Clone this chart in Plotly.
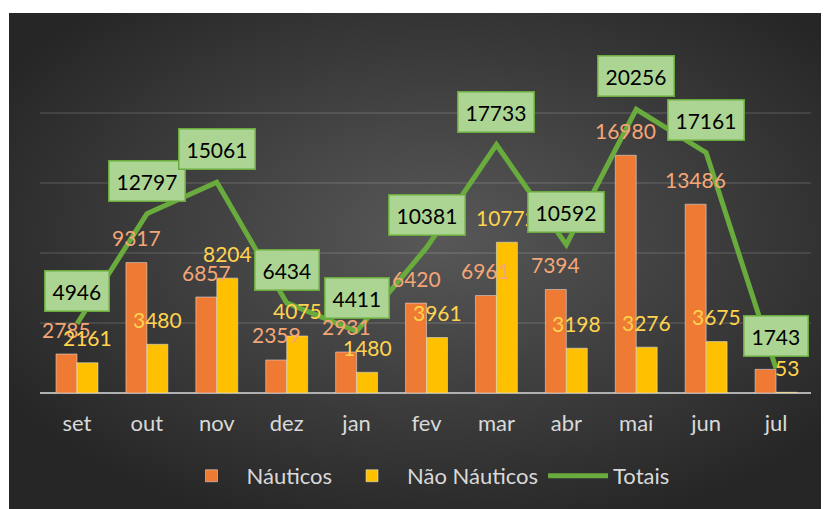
import base64

import plotly.graph_objects as go

months = ["set", "out", "nov", "dez", "jan", "fev", "mar", "abr", "mai", "jun", "jul"]
nauticos = [2785, 9317, 6857, 2359, 2931, 6420, 6961, 7394, 16980, 13486, 1690]
nao_nauticos = [2161, 3480, 8204, 4075, 1480, 3961, 10772, 3198, 3276, 3675, 53]
totais = [4946, 12797, 15061, 6434, 4411, 10381, 17733, 10592, 20256, 17161, 1743]

# label for jul Náuticos is hidden under the totals box in the original
show_nauticos_label = [True] * 10 + [False]

FONT = "Lato, 'Open Sans', sans-serif"
ORANGE = "#ee7a33"
YELLOW = "#ffc000"
GREEN = "#6aab3d"

# page body adds an 8px margin, so the figure is a bit smaller than the window
W, H = 821, 501
L, R, T, B = 32, 18, 35, 116
pw, ph = W - L - R, H - T - B

bg_svg = (
    '<svg xmlns="http://www.w3.org/2000/svg" width="820" height="496" '
    'viewBox="0 0 820 496" preserveAspectRatio="none">'
    '<defs><radialGradient id="g" cx="0.52" cy="0.45" r="0.62">'
    '<stop offset="0" stop-color="#585858"/>'
    '<stop offset="1" stop-color="#262626"/>'
    "</radialGradient></defs>"
    '<rect width="820" height="496" fill="url(#g)"/></svg>'
)
bg_src = "data:image/svg+xml;base64," + base64.b64encode(bg_svg.encode()).decode()

fig = go.Figure()
fig.add_trace(go.Bar(x=months, y=nauticos, name="Náuticos", marker_color=ORANGE))
fig.add_trace(go.Bar(x=months, y=nao_nauticos, name="Não Náuticos", marker_color=YELLOW))
fig.add_trace(go.Scatter(x=months, y=totais, name="Totais", mode="lines",
                         line=dict(color=GREEN, width=5)))

annotations = []
for m, v, show in zip(months, nauticos, show_nauticos_label):
    if show:
        annotations.append(dict(x=m, y=v, text=str(v), showarrow=False, xshift=-10.5,
                                yshift=25, font=dict(family=FONT, size=21, color="#f4a677")))
for m, v in zip(months, nao_nauticos):
    annotations.append(dict(x=m, y=v, text=str(v), showarrow=False, xshift=10.5,
                            yshift=25, font=dict(family=FONT, size=21, color="#ffd34d")))
for m, v in zip(months, totais):
    annotations.append(dict(x=m, y=v, text=str(v), showarrow=False, yshift=33,
                            bgcolor="#acd594", bordercolor="#6aab3d", borderwidth=1.5,
                            borderpad=7, font=dict(family=FONT, size=21, color="#000000")))

fig.update_layout(
    width=W, height=H,
    margin=dict(l=L, r=R, t=T, b=B),
    paper_bgcolor="white",
    plot_bgcolor="rgba(0,0,0,0)",
    barmode="group", bargap=0.4, bargroupgap=0,
    font=dict(family=FONT, size=22, color="#d9d9d9"),
    showlegend=True,
    legend=dict(orientation="h", x=0.5, xanchor="center", y=-0.237, yanchor="middle",
                itemwidth=60, font=dict(size=22, color="#d9d9d9"),
                bgcolor="rgba(0,0,0,0)"),
    annotations=annotations,
    images=[dict(source=bg_src, xref="paper", yref="paper",
                 x=-(L - 1) / pw, y=(H - B - 5) / ph,
                 sizex=(W - 1) / pw, sizey=(H - 5) / ph,
                 xanchor="left", yanchor="top", sizing="stretch", layer="below")],
)
fig.update_xaxes(showgrid=False, showline=False, ticks="", ticklabelstandoff=15,
                 tickfont=dict(size=22, color="#d9d9d9"))
fig.update_yaxes(range=[0, 25000], dtick=5000, showticklabels=False,
                 gridcolor="rgba(255,255,255,0.1)", gridwidth=1.5,
                 zeroline=True, zerolinecolor="#b0b0b0", zerolinewidth=2)

fig.write_html("out.html")
